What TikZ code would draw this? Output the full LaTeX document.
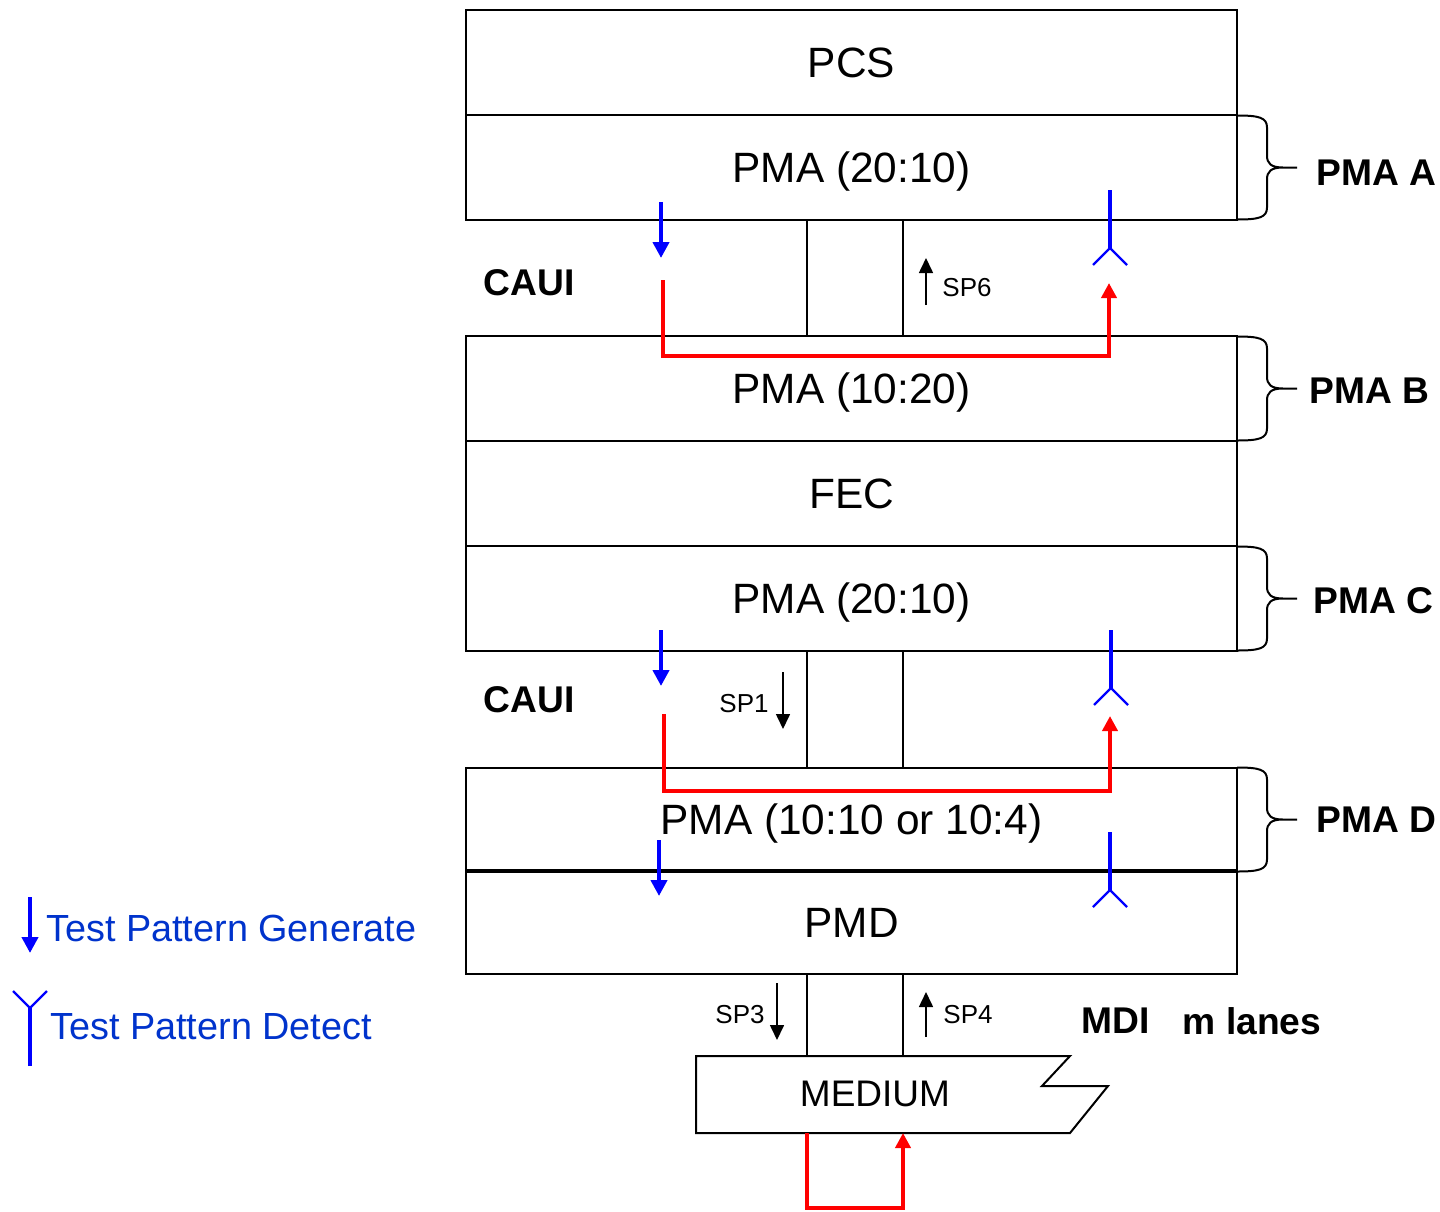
\documentclass[tikz,border=0pt]{standalone}
\usepackage{fontspec}
\setmainfont{Liberation Sans}
\usepackage{tikz}
\usetikzlibrary{arrows.meta,positioning}

\definecolor{legendblue}{RGB}{0,51,204}
\newcommand{\layerfont}{\fontsize{21.2}{25}\selectfont}
\newcommand{\tagfont}{\fontsize{18.6}{22}\selectfont\bfseries}
\newcommand{\labelfont}{\fontsize{18.5}{22}\selectfont}
\newcommand{\legendfont}{\fontsize{18.9}{22}\selectfont}
\newcommand{\spfont}{\fontsize{13}{15}\selectfont}

\tikzset{
    layer/.style={draw, line width=1pt, outer sep=0pt, inner sep=0pt,
        minimum width=385.5pt, minimum height=52.5pt,
        text height=15pt, text depth=0pt, font=\layerfont},
    linkbox/.style={draw, line width=1pt, outer sep=0pt, minimum width=48pt},
    tag/.style={inner sep=0pt, font=\tagfont},
    splabel/.style={inner sep=0pt, font=\spfont},
    legend/.style={inner sep=0pt, anchor=west, text=legendblue, font=\legendfont},
    gen/.style={blue, line width=2pt, -{Triangle[width=8pt,length=8pt]}},
    loopback/.style={red, line width=2pt, -{Triangle[width=7.5pt,length=7.5pt]}},
    sparrow/.style={line width=0.8pt, -{Triangle[width=7pt,length=7.5pt]}},
    detect/.pic={
        \draw[blue, line width=2pt] (0,-58) -- (0,0);
        \draw[blue, line width=1.2pt] (-17,17) -- (0,0) -- (17,17);
    },
    layerbrace/.pic={
        \draw[line width=1pt] (0,-52) .. controls (22,-52) and (30,-50) .. (30,-40) -- (30,-12)
            .. controls (30,-4) and (34,0) .. (46,0) -- (60,0)
            (46,0) .. controls (34,0) and (30,4) .. (30,12) -- (30,40)
            .. controls (30,50) and (22,52) .. (0,52);
    }
}

\begin{document}
\begin{tikzpicture}[x=0.5pt, y=-0.5pt]
    \useasboundingbox (0,0) rectangle (1440,1211);

    % layer stack
    \node[layer] (pcs) at (851.5,62.5) {PCS};
    \node[layer, below=0pt of pcs] (pmaA) {PMA (20:10)};
    \node[layer] (pmaB) at (851.5,388.5) {PMA (10:20)};
    \node[layer, below=0pt of pmaB] (fec) {FEC};
    \node[layer, below=0pt of fec] (pmaC) {PMA (20:10)};
    \node[layer, minimum height=51.5pt] (pmaD) at (851.5,819.5) {PMA (10:10 or 10:4)};
    \node[layer, minimum height=51.5pt, below=0pt of pmaD] (pmd) {PMD};
    \draw[line width=2pt] (pmaD.south west) -- (pmaD.south east);

    % interfaces
    \node[linkbox, minimum height=58pt] (cauiA) at (855,278) {};
    \node[linkbox, minimum height=58.5pt] (cauiB) at (855,709.5) {};
    \node[linkbox, minimum height=41pt] (mdi) at (855,1015) {};
    \node[tag] (cauiAlabel) at (529,283) {CAUI};
    \node[tag] (cauiBlabel) at (529,700) {CAUI};
    \node[tag] (mdilabel) at (1116,1021) {MDI};
    \node[tag] (laneslabel) at (1252,1021) {m lanes};

    % medium
    \draw[line width=1pt] (696,1056) -- (1070,1056) -- (1042,1086) -- (1108,1086)
        -- (1070,1133) -- (696,1133) -- cycle;
    \node[inner sep=0pt, font=\labelfont] (medium) at (875,1094) {MEDIUM};

    % sublayer braces
    \pic at (pmaA.east) {layerbrace};
    \pic at (pmaB.east) {layerbrace};
    \pic at (pmaC.east) {layerbrace};
    \pic at (pmaD.east) {layerbrace};
    \node[tag, anchor=west] (tagA) at (1316,173) {PMA A};
    \node[tag, anchor=west] (tagB) at (1309,391) {PMA B};
    \node[tag, anchor=west] (tagC) at (1313,601) {PMA C};
    \node[tag, anchor=west] (tagD) at (1316,820) {PMA D};

    % test points
    \node[splabel] (sp6) at (967,288) {SP6};
    \node[splabel] (sp1) at (744,704) {SP1};
    \node[splabel] (sp3) at (740,1015) {SP3};
    \node[splabel] (sp4) at (968,1015) {SP4};
    \coordinate (sp6tail) at (926,305);
    \coordinate (sp1tail) at (783,672);
    \coordinate (sp3tail) at (777,983);
    \coordinate (sp4tail) at (926,1037);
    \draw[sparrow] (sp6tail) -- ++(0,-47);
    \draw[sparrow] (sp1tail) -- ++(0,57);
    \draw[sparrow] (sp3tail) -- ++(0,57);
    \draw[sparrow] (sp4tail) -- ++(0,-45);

    % generators and detectors
    \coordinate (genA) at (661,202);
    \coordinate (genB) at (661,630);
    \coordinate (genC) at (659,840);
    \draw[gen] (genA) -- ++(0,56);
    \draw[gen] (genB) -- ++(0,56);
    \draw[gen] (genC) -- ++(0,56);
    \pic at (1110,248) {detect};
    \pic at (1111,688) {detect};
    \pic at (1110,890) {detect};

    % loopbacks
    \coordinate (loopAin) at (663,280);
    \coordinate (loopAout) at (1109,283);
    \coordinate (loopBin) at (664,714);
    \coordinate (loopBout) at (1110,716);
    \draw[loopback] (loopAin) -- ++(0,76) -| (loopAout);
    \draw[loopback] (loopBin) -- ++(0,77) -| (loopBout);
    \draw[loopback] (807,1133) -- (807,1208) -| (903,1133);

    % legend
    \draw[gen] (30,897) -- (30,953);
    \node[legend] (leggen) at (46,928) {Test Pattern Generate};
    \pic[rotate=180] at (30,1008) {detect};
    \node[legend] (legdet) at (50,1027) {Test Pattern Detect};
\end{tikzpicture}
\end{document}
